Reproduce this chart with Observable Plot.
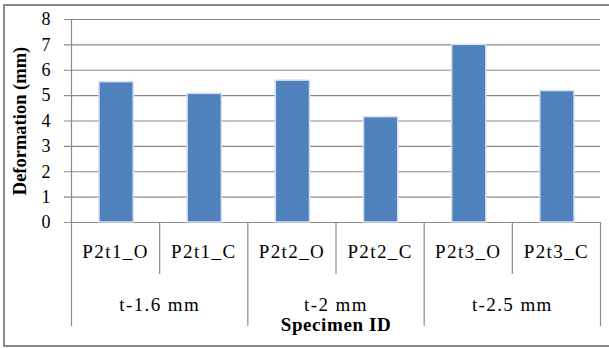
<!DOCTYPE html>
<html>
<head>
<meta charset="utf-8">
<script src="https://cdn.jsdelivr.net/npm/d3@7"></script>
<script src="https://cdn.jsdelivr.net/npm/@observablehq/plot@0.6"></script>
<style>
  html, body { margin: 0; padding: 0; background: #fff; overflow: hidden; }
  #wrap { position: relative; width: 609px; height: 348px; overflow: hidden; }
  #frame { position: absolute; left: 3px; top: 4px; width: 620px; height: 339px; border-top: 2px solid #8a8a8a; border-left: 2px solid #8a8a8a; border-bottom: 2px solid #8a8a8a; border-right: none; pointer-events: none; }
  .cat text { letter-spacing: 1.4px; }
  .ttl text { letter-spacing: 0.6px; }
</style>
</head>
<body>
<div id="wrap"><div id="frame"></div></div>
<script>
// Data
const specimens = ["P2t1_O", "P2t1_C", "P2t2_O", "P2t2_C", "P2t3_O", "P2t3_C"];
const deformation = [5.53, 5.07, 5.59, 4.15, 7.0, 5.18];
const groups = ["t-1.6 mm", "t-2 mm", "t-2.5 mm"];
const yTicks = [0, 1, 2, 3, 4, 5, 6, 7, 8];
const yTitle = "Deformation (mm)";
const xTitle = "Specimen ID";

const bars = specimens.map((s, i) => ({ s, i, v: deformation[i] }));
const groupRows = groups.map((g, j) => ({ g, j }));
const innerSeps = [1, 3, 5];
const groupSeps = [0, 2, 4, 6];

const font = "Liberation Serif";
const grid = "#8a8a8a";

const chart = Plot.plot({
  width: 609,
  height: 348,
  marginLeft: 71,
  marginRight: 9,
  marginTop: 19,
  marginBottom: 126,
  style: { background: "transparent", overflow: "visible" },
  x: { type: "linear", domain: [0, specimens.length], axis: null },
  y: { domain: [0, 8], axis: null },
  marks: [
    Plot.ruleY(yTicks, { x1: 0, x2: specimens.length, stroke: grid, strokeWidth: 1.2, insetLeft: -7 }),
    Plot.ruleX([0], { y1: 8, y2: 0, stroke: grid, strokeWidth: 1.2 }),
    Plot.ruleX(innerSeps, { y1: 0, y2: 0, stroke: grid, strokeWidth: 1.2, insetBottom: -52 }),
    Plot.ruleX(groupSeps, { y1: 0, y2: 0, stroke: grid, strokeWidth: 1.2, insetBottom: -104 }),
    Plot.rectY(bars, {
      x1: d => d.i, x2: d => d.i + 1, y1: 0, y2: "v",
      fill: "#4F81BD", stroke: "#d3deee", strokeWidth: 1.5,
      insetLeft: 28, insetRight: 26
    }),
    Plot.text(yTicks, {
      x: 0, y: d => d, text: d => String(d),
      textAnchor: "end", dx: -21, fontSize: 18, fontFamily: font, fill: "#000"
    }),
    Plot.text([yTitle], {
      frameAnchor: "left", rotate: -90, dx: -51, text: d => d, textAnchor: "middle",
      fontSize: 18.5, fontWeight: "bold", fontFamily: font, fill: "#000"
    }),
    Plot.text(bars, {
      x: d => d.i + 0.5, y: 0, text: "s", dy: 29,
      fontSize: 19, fontFamily: font, fill: "#000", className: "cat"
    }),
    Plot.text(groupRows, {
      x: d => d.j * 2 + 1, y: 0, text: "g", dy: 82,
      fontSize: 19, fontFamily: font, fill: "#000", className: "cat"
    }),
    Plot.text([xTitle], {
      frameAnchor: "bottom", dy: 108, text: d => d,
      fontSize: 19, fontWeight: "bold", fontFamily: font, fill: "#000", className: "ttl"
    })
  ]
});
chart.style.position = "absolute";
chart.style.left = "0px";
chart.style.top = "0px";
document.getElementById("wrap").prepend(chart);
</script>
</body>
</html>
